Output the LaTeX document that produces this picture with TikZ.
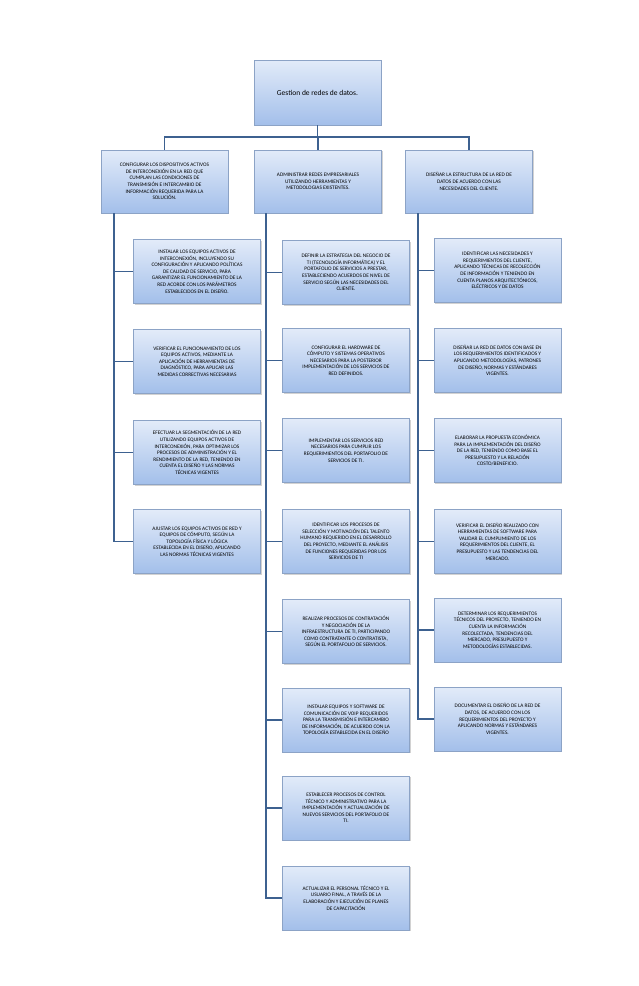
\documentclass[tikz,border=0pt]{standalone}
\usepackage{fontspec}
\setmainfont{Carlito}
\usetikzlibrary{shadows}
\definecolor{bxline}{HTML}{8CA3C6}
\definecolor{bxtop}{HTML}{E2EBF9}
\definecolor{bxbot}{HTML}{A3BFEA}
\definecolor{conn}{HTML}{3D6190}
\tikzset{
 bx/.style={draw=bxline, top color=bxtop, bottom color=bxbot, align=center,
  minimum width=127pt, minimum height=64pt, inner sep=1pt, font=\fontsize{5.3}{6.6}\selectfont,
  drop shadow={shadow xshift=1.2pt, shadow yshift=-1.2pt, opacity=0.35}},
 cn/.style={draw=conn, line width=1.3pt}
}
\begin{document}
\begin{tikzpicture}[x=1pt,y=-1pt]
\useasboundingbox (0,0) rectangle (638,986);
\fill[white] (0,0) rectangle (638,986);
\node[bx, minimum height=65pt, font=\fontsize{7.5}{9}\selectfont] (root) at (317.5,92.5) {Gestion de redes de datos.};
\node[bx, minimum height=63pt] (L1) at (164.5,181.5) {CONFIGURAR LOS DISPOSITIVOS ACTIVOS\\DE INTERCONEXIÓN EN LA RED QUE\\CUMPLAN LAS CONDICIONES DE\\TRANSMISIÓN E INTERCAMBIO DE\\INFORMACIÓN REQUERIDA PARA LA\\SOLUCIÓN.};
\node[bx, minimum height=63pt] (C1) at (318,181.5) {ADMINISTRAR REDES EMPRESARIALES\\UTILIZANDO HERRAMIENTAS Y\\METODOLOGIAS EXISTENTES.};
\node[bx, minimum height=63pt] (R1) at (469,181.5) {DISEÑAR LA ESTRUCTURA DE LA RED DE\\DATOS DE ACUERDO CON LAS\\NECESIDADES DEL CLIENTE.};
% left
\node[bx] (l1) at (197,271.5) {INSTALAR LOS EQUIPOS ACTIVOS DE\\INTERCONEXIÓN, INCLUYENDO SU\\CONFIGURACIÓN Y APLICANDO POLÍTICAS\\DE CALIDAD DE SERVICIO, PARA\\GARANTIZAR EL FUNCIONAMIENTO DE LA\\RED ACORDE CON LOS PARÁMETROS\\ESTABLECIDOS EN EL DISEÑO.};
\node[bx] (l2) at (197,361.5) {VERIFICAR EL FUNCIONAMIENTO DE LOS\\EQUIPOS ACTIVOS, MEDIANTE LA\\APLICACIÓN DE HERRAMIENTAS DE\\DIAGNÓSTICO, PARA APLICAR LAS\\MEDIDAS CORRECTIVAS NECESARIAS};
\node[bx] (l3) at (197,452.5) {EFECTUAR LA SEGMENTACIÓN DE LA RED\\UTILIZANDO EQUIPOS ACTIVOS DE\\INTERCONEXIÓN, PARA OPTIMIZAR LOS\\PROCESOS DE ADMINISTRACIÓN Y EL\\RENDIMIENTO DE LA RED, TENIENDO EN\\CUENTA EL DISEÑO Y LAS NORMAS\\TÉCNICAS VIGENTES};
\node[bx] (l4) at (197,541.5) {AJUSTAR LOS EQUIPOS ACTIVOS DE RED Y\\EQUIPOS DE CÓMPUTO, SEGÚN LA\\TOPOLOGÍA FÍSICA Y LÓGICA\\ESTABLECIDA EN EL DISEÑO, APLICANDO\\LAS NORMAS TÉCNICAS VIGENTES};
% middle
\node[bx] (m1) at (346,272.5) {DEFINIR LA ESTRATEGIA DEL NEGOCIO DE\\TI (TECNOLOGÍA INFORMÁTICA) Y EL\\PORTAFOLIO DE SERVICIOS A PRESTAR,\\ESTABLECIENDO ACUERDOS DE NIVEL DE\\SERVICIO SEGÚN LAS NECESIDADES DEL\\CLIENTE.};
\node[bx] (m2) at (346,360.5) {CONFIGURAR EL HARDWARE DE\\CÓMPUTO Y SISTEMAS OPERATIVOS\\NECESARIOS PARA LA POSTERIOR\\IMPLEMENTACIÓN DE LOS SERVICIOS DE\\RED DEFINIDOS.};
\node[bx] (m3) at (346,450.5) {IMPLEMENTAR LOS SERVICIOS RED\\NECESARIOS PARA CUMPLIR LOS\\REQUERIMIENTOS DEL PORTAFOLIO DE\\SERVICIOS DE TI.};
\node[bx] (m4) at (346,541.5) {IDENTIFICAR LOS PROCESOS DE\\SELECCIÓN Y MOTIVACIÓN DEL TALENTO\\HUMANO REQUERIDO EN EL DESARROLLO\\DEL PROYECTO, MEDIANTE EL ANÁLISIS\\DE FUNCIONES REQUERIDAS POR LOS\\SERVICIOS DE TI};
\node[bx] (m5) at (346,631.5) {REALIZAR PROCESOS DE CONTRATACIÓN\\Y NEGOCIACIÓN DE LA\\INFRAESTRUCTURA DE TI, PARTICIPANDO\\COMO CONTRATANTE O CONTRATISTA,\\SEGÚN EL PORTAFOLIO DE SERVICIOS.};
\node[bx] (m6) at (346,720) {INSTALAR EQUIPOS Y SOFTWARE DE\\COMUNICACIÓN DE VOIP REQUERIDOS\\PARA LA TRANSMISIÓN E INTERCAMBIO\\DE INFORMACIÓN, DE ACUERDO CON LA\\TOPOLOGÍA ESTABLECIDA EN EL DISEÑO};
\node[bx] (m7) at (346,808) {ESTABLECER PROCESOS DE CONTROL\\TÉCNICO Y ADMINISTRATIVO PARA LA\\IMPLEMENTACIÓN Y ACTUALIZACIÓN DE\\NUEVOS SERVICIOS DEL PORTAFOLIO DE\\TI.};
\node[bx] (m8) at (346,898) {ACTUALIZAR EL PERSONAL TÉCNICO Y EL\\USUARIO FINAL, A TRAVÉS DE LA\\ELABORACIÓN Y EJECUCIÓN DE PLANES\\DE CAPACITACIÓN};
% right
\node[bx] (r1) at (497.5,270.5) {IDENTIFICAR LAS NECESIDADES Y\\REQUERIMIENTOS DEL CLIENTE,\\APLICANDO TÉCNICAS DE RECOLECCIÓN\\DE INFORMACIÓN Y TENIENDO EN\\CUENTA PLANOS ARQUITECTÓNICOS,\\ELÉCTRICOS Y DE DATOS};
\node[bx] (r2) at (497.5,360.5) {DISEÑAR LA RED DE DATOS CON BASE EN\\LOS REQUERIMIENTOS IDENTIFICADOS Y\\APLICANDO METODOLOGÍAS, PATRONES\\DE DISEÑO, NORMAS Y ESTÁNDARES\\VIGENTES.};
\node[bx] (r3) at (497.5,450.5) {ELABORAR LA PROPUESTA ECONÓMICA\\PARA LA IMPLEMENTACIÓN DEL DISEÑO\\DE LA RED, TENIENDO COMO BASE EL\\PRESUPUESTO Y LA RELACIÓN\\COSTO/BENEFICIO.};
\node[bx] (r4) at (497.5,541.5) {VERIFICAR EL DISEÑO REALIZADO CON\\HERRAMIENTAS DE SOFTWARE PARA\\VALIDAR EL CUMPLIMIENTO DE LOS\\REQUERIMIENTOS DEL CLIENTE, EL\\PRESUPUESTO Y LAS TENDENCIAS DEL\\MERCADO.};
\node[bx] (r5) at (497.5,630) {DETERMINAR LOS REQUERIMIENTOS\\TÉCNICOS DEL PROYECTO, TENIENDO EN\\CUENTA LA INFORMACIÓN\\RECOLECTADA, TENDENCIAS DEL\\MERCADO, PRESUPUESTO Y\\METODOLOGÍAS ESTABLECIDAS.};
\node[bx] (r6) at (497.5,719) {DOCUMENTAR EL DISEÑO DE LA RED DE\\DATOS, DE ACUERDO CON LOS\\REQUERIMIENTOS DEL PROYECTO Y\\APLICANDO NORMAS Y ESTÁNDARES\\VIGENTES.};
% connectors
\coordinate (bus) at (0,137);
\draw[cn] (root.south) -- (root.south |- bus);
\draw[cn] (L1.north) |- (bus -| root.south);
\draw[cn] (R1.north) |- (bus -| root.south);
\draw[cn] (C1.north) -- (C1.north |- bus);
\coordinate (tL) at (114,0);
\coordinate (tM) at (266,0);
\coordinate (tR) at (418,0);
\foreach \c in {l1,l2,l3,l4} \draw[cn] (L1.south -| tL) |- (\c.west);
\foreach \c in {m1,m2,m3,m4,m5,m6,m7,m8} \draw[cn] (C1.south -| tM) |- (\c.west);
\foreach \c in {r1,r2,r3,r4,r5,r6} \draw[cn] (R1.south -| tR) |- (\c.west);
\end{tikzpicture}
\end{document}
